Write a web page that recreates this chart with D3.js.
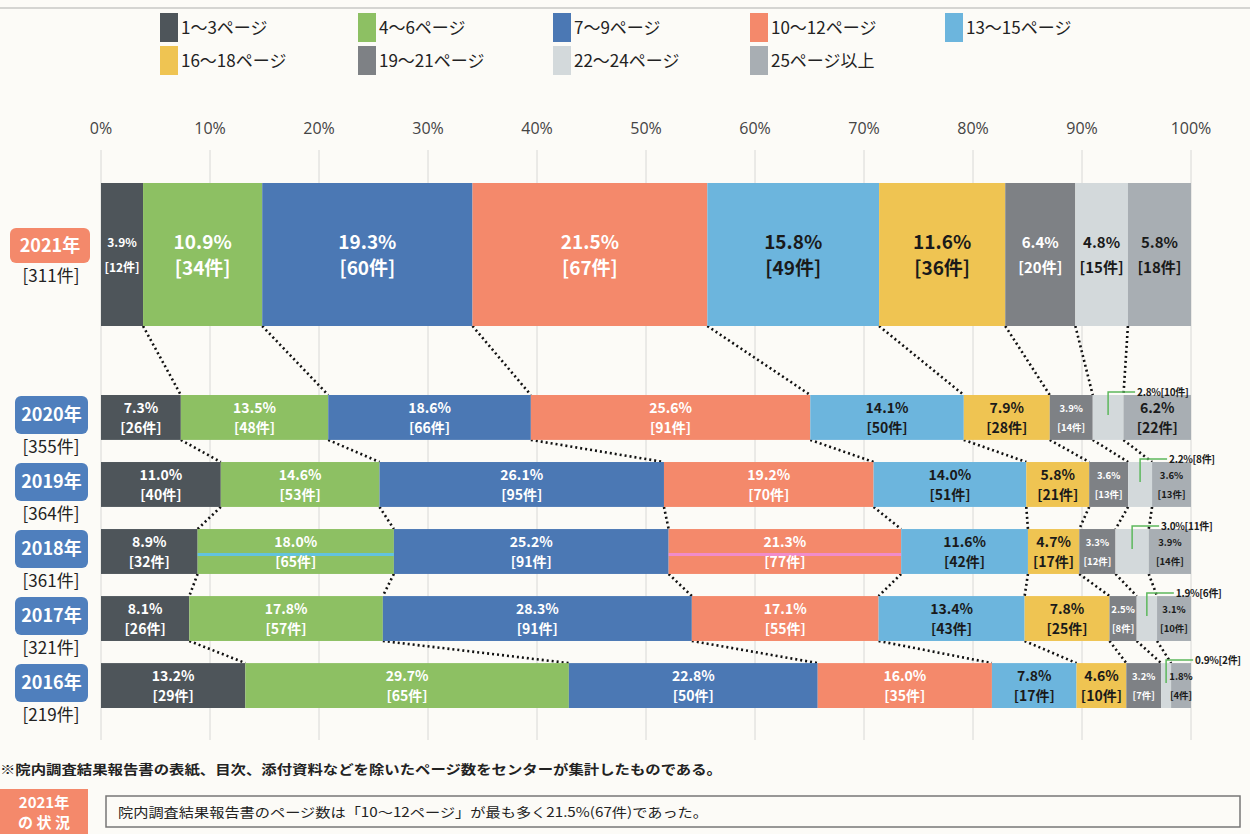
<!DOCTYPE html>
<html>
<head>
<meta charset="utf-8">
<script src="https://cdn.jsdelivr.net/npm/d3@7"></script>
<style>
  body { margin: 0; background: #fcfbf7; }
  svg { display: block; }
</style>
</head>
<body>
<div id="frame"></div>
<script>
// categories and colours
let categories = ['1～3ページ', '4～6ページ', '7～9ページ', '10～12ページ', '13～15ページ',
    '16～18ページ', '19～21ページ', '22～24ページ', '25ページ以上'];
let colors = ['#4e555a', '#8dc063', '#4b78b4', '#f4896b', '#6cb5dd', '#efc452', '#7e8185', '#d3d9db', '#a8aeb3'];
// label text white or black per category
let whiteText = [true, true, true, true, false, false, true, false, false];

// years (2021 drawn large on top)
let years = ['2021年', '2020年', '2019年', '2018年', '2017年', '2016年'];
let totals = [311, 355, 364, 361, 321, 219];

// counts per category
let counts2021 = [12, 34, 60, 67, 49, 36, 20, 15, 18];
let counts2020 = [26, 48, 66, 91, 50, 28, 14, 10, 22];
let counts2019 = [40, 53, 95, 70, 51, 21, 13, 8, 13];
let counts2018 = [32, 65, 91, 77, 42, 17, 12, 11, 14];
let counts2017 = [26, 57, 91, 55, 43, 25, 8, 6, 10];
let counts2016 = [29, 65, 50, 35, 17, 10, 7, 2, 4];

// percentages as printed
let pct2021 = [3.9, 10.9, 19.3, 21.5, 15.8, 11.6, 6.4, 4.8, 5.8];
let pct2020 = [7.3, 13.5, 18.6, 25.6, 14.1, 7.9, 3.9, 2.8, 6.2];
let pct2019 = [11.0, 14.6, 26.1, 19.2, 14.0, 5.8, 3.6, 2.2, 3.6];
let pct2018 = [8.9, 18.0, 25.2, 21.3, 11.6, 4.7, 3.3, 3.0, 3.9];
let pct2017 = [8.1, 17.8, 28.3, 17.1, 13.4, 7.8, 2.5, 1.9, 3.1];
let pct2016 = [13.2, 29.7, 22.8, 16.0, 7.8, 4.6, 3.2, 0.9, 1.8];

let xTicks = [0, 10, 20, 30, 40, 50, 60, 70, 80, 90, 100];

let footnote = '※院内調査結果報告書の表紙、目次、添付資料などを除いたページ数をセンターが集計したものである。';
let summary = '院内調査結果報告書のページ数は「10～12ページ」が最も多く21.5%(67件)であった。';

let countsAll = [counts2021, counts2020, counts2019, counts2018, counts2017, counts2016];
let pctAll = [pct2021, pct2020, pct2019, pct2018, pct2017, pct2016];

let W = 1250, H = 834;
let narrow = "'Liberation Sans Narrow', 'Noto Sans CJK JP', sans-serif";
let jp = "'Noto Sans CJK JP', sans-serif";

let svg = d3.select('#frame').append('svg')
    .attr('width', W).attr('height', H);

svg.append('rect').attr('width', W).attr('height', H).attr('fill', '#fcfbf7');
// top rule
svg.append('line').attr('x1', 0).attr('x2', W).attr('y1', 8).attr('y2', 8)
    .attr('stroke', '#c9c9c6').attr('stroke-width', 1.5);

//x scale
let x = d3.scaleLinear().domain([0, 100]).range([101, 1191]);

// rows: 2021 big, rest via band scale
let big = { top: 183, height: 143 };
let yBand = d3.scaleBand().domain(years.slice(1)).range([395, 708]).paddingInner(0.33).paddingOuter(0);

function rowTop(i) { return i === 0 ? big.top : yBand(years[i]); }
function rowH(i) { return i === 0 ? big.height : yBand.bandwidth(); }

// stack the shares
let data = countsAll.map((c, i) => {
    let o = { year: years[i] };
    c.forEach((v, k) => o[k] = v / totals[i] * 100);
    return o;
});
let stacked = d3.stack().keys(d3.range(categories.length))(data);

//legend
let legCols = [160, 358, 553, 750, 945];
let legend = svg.append('g');
categories.forEach((c, i) => {
    let col = i % 5, row = Math.floor(i / 5);
    let g = legend.append('g').attr('transform', 'translate(' + legCols[col] + ',' + (13 + row * 33) + ')');
    g.append('rect').attr('width', 18).attr('height', 29).attr('fill', colors[i]);
    g.append('text').attr('x', 21).attr('y', 21)
        .style('font-family', narrow).style('font-size', '17px').style('fill', '#222')
        .text(c);
});

// grid + tick labels
let grid = svg.append('g');
grid.selectAll('line').data(xTicks).enter().append('line')
    .attr('x1', d => x(d)).attr('x2', d => x(d))
    .attr('y1', 150).attr('y2', 740)
    .attr('stroke', '#d8d8d6').attr('stroke-width', 1);
grid.selectAll('text').data(xTicks).enter().append('text')
    .attr('x', d => x(d)).attr('y', 134)
    .attr('text-anchor', 'middle')
    .style('font-family', "'Open Sans', sans-serif").style('font-size', '16px').style('fill', '#444')
    .text(d => d + '%');

// dotted connectors between consecutive rows
let conn = svg.append('g');
for (let i = 0; i < years.length - 1; i++) {
    for (let k = 0; k < categories.length - 1; k++) {
        let x1 = x(stacked[k][i][1]), x2 = x(stacked[k][i + 1][1]);
        conn.append('line')
            .attr('x1', x1).attr('y1', rowTop(i) + rowH(i))
            .attr('x2', x2).attr('y2', rowTop(i + 1))
            .attr('stroke', '#111').attr('stroke-width', 2.6)
            .attr('stroke-dasharray', '2,3');
    }
}

// bars
let bars = svg.append('g');
stacked.forEach((layer, k) => {
    bars.selectAll('rect.c' + k).data(layer).enter().append('rect')
        .attr('class', 'c' + k)
        .attr('x', d => x(d[0]))
        .attr('width', d => x(d[1]) - x(d[0]))
        .attr('y', (d, i) => rowTop(i))
        .attr('height', (d, i) => rowH(i))
        .attr('fill', colors[k]);
});

// highlight strokes seen on the 2018 row (green and red segments)
let hiRow = years.indexOf('2018年');
[[1, '#62c3df'], [3, '#f08ccb']].forEach(([k, c]) => {
    let d = stacked[k][hiRow];
    let yy = rowTop(hiRow) + rowH(hiRow) / 2 + 3;
    bars.append('line').attr('x1', x(d[0])).attr('x2', x(d[1]))
        .attr('y1', yy).attr('y2', yy).attr('stroke', c).attr('stroke-width', 3);
});

// bar labels
let labels = svg.append('g').style('font-family', narrow).style('font-weight', 'bold');
stacked.forEach((layer, k) => {
    layer.forEach((d, i) => {
        let w = x(d[1]) - x(d[0]);
        let cx = (x(d[0]) + x(d[1])) / 2;
        let cy = rowTop(i) + rowH(i) / 2;
        let p = pctAll[i][k].toFixed(1) + '%';
        let n = '[' + countsAll[i][k] + '件]';
        let fill = whiteText[k] ? '#fff' : '#1a1a1a';
        if (i > 0 && k === 7) {
            // callout for narrow 22-24 segment
            let top = rowTop(i);
            labels.append('path')
                .attr('d', 'M' + cx + ',' + (top + 20) + 'V' + (top - 3) + 'H' + (cx + 27))
                .attr('fill', 'none').attr('stroke', '#5cb85c').attr('stroke-width', 1.5);
            labels.append('text').attr('x', cx + 29).attr('y', top + 1)
                .style('font-size', '10px').style('letter-spacing', '-0.3px').style('fill', '#1a1a1a')
                .text(p + '[' + countsAll[i][k] + '件]');
            return;
        }
        let fs;
        if (i === 0) fs = w < 50 ? 12 : (w < 80 ? 15 : 19);
        else fs = w < 46 ? 9.5 : 14;
        let dy = i === 0 ? 12 : 9;
        labels.append('text').attr('x', cx).attr('y', cy - dy + fs * 0.35)
            .attr('text-anchor', 'middle').style('font-size', fs + 'px').style('fill', fill).text(p);
        labels.append('text').attr('x', cx).attr('y', cy + dy + fs * 0.45)
            .attr('text-anchor', 'middle').style('font-size', fs + 'px').style('fill', fill).text(n);
    });
});

// year labels
let yl = svg.append('g');
years.forEach((y, i) => {
    let first = i === 0;
    let bx = first ? 10 : 15, bw = first ? 80 : 73;
    let by = first ? 228 : rowTop(i) + 1, bh = first ? 35 : 38;
    yl.append('rect').attr('x', bx).attr('y', by).attr('width', bw).attr('height', bh)
        .attr('rx', 6).attr('fill', first ? '#f4896b' : '#4f7fbd');
    yl.append('text').attr('x', bx + bw / 2).attr('y', by + bh / 2 + 6)
        .attr('text-anchor', 'middle')
        .style('font-family', narrow).style('font-weight', 'bold').style('font-size', '18px').style('fill', '#fff')
        .text(y);
    yl.append('text').attr('x', 51).attr('y', by + bh + 19)
        .attr('text-anchor', 'middle')
        .style('font-family', narrow).style('font-size', '17px').style('fill', '#222')
        .text('[' + totals[i] + '件]');
});

// footnote
svg.append('text').attr('x', 0).attr('y', 774)
    .attr('textLength', 722).attr('lengthAdjust', 'spacingAndGlyphs')
    .style('font-family', jp).style('font-weight', 'bold').style('font-size', '13px').style('fill', '#222')
    .text(footnote);

// bottom summary
svg.append('rect').attr('x', 0).attr('y', 789).attr('width', 88).attr('height', 45).attr('fill', '#f4896b');
svg.append('text').attr('x', 44).attr('y', 808).attr('text-anchor', 'middle')
    .style('font-family', jp).style('font-weight', 'bold').style('font-size', '15px').style('fill', '#fff')
    .text('2021年');
svg.append('text').attr('x', 44).attr('y', 828).attr('text-anchor', 'middle')
    .style('font-family', jp).style('font-weight', 'bold').style('font-size', '15px').style('fill', '#fff')
    .text('の 状 況');
svg.append('rect').attr('x', 106).attr('y', 796).attr('width', 1134).attr('height', 31)
    .attr('fill', 'none').attr('stroke', '#777').attr('stroke-width', 1.5);
svg.append('text').attr('x', 118).attr('y', 817)
    .attr('textLength', 590).attr('lengthAdjust', 'spacingAndGlyphs')
    .style('font-family', jp).style('font-size', '13px').style('fill', '#222')
    .text(summary);
</script>
</body>
</html>
